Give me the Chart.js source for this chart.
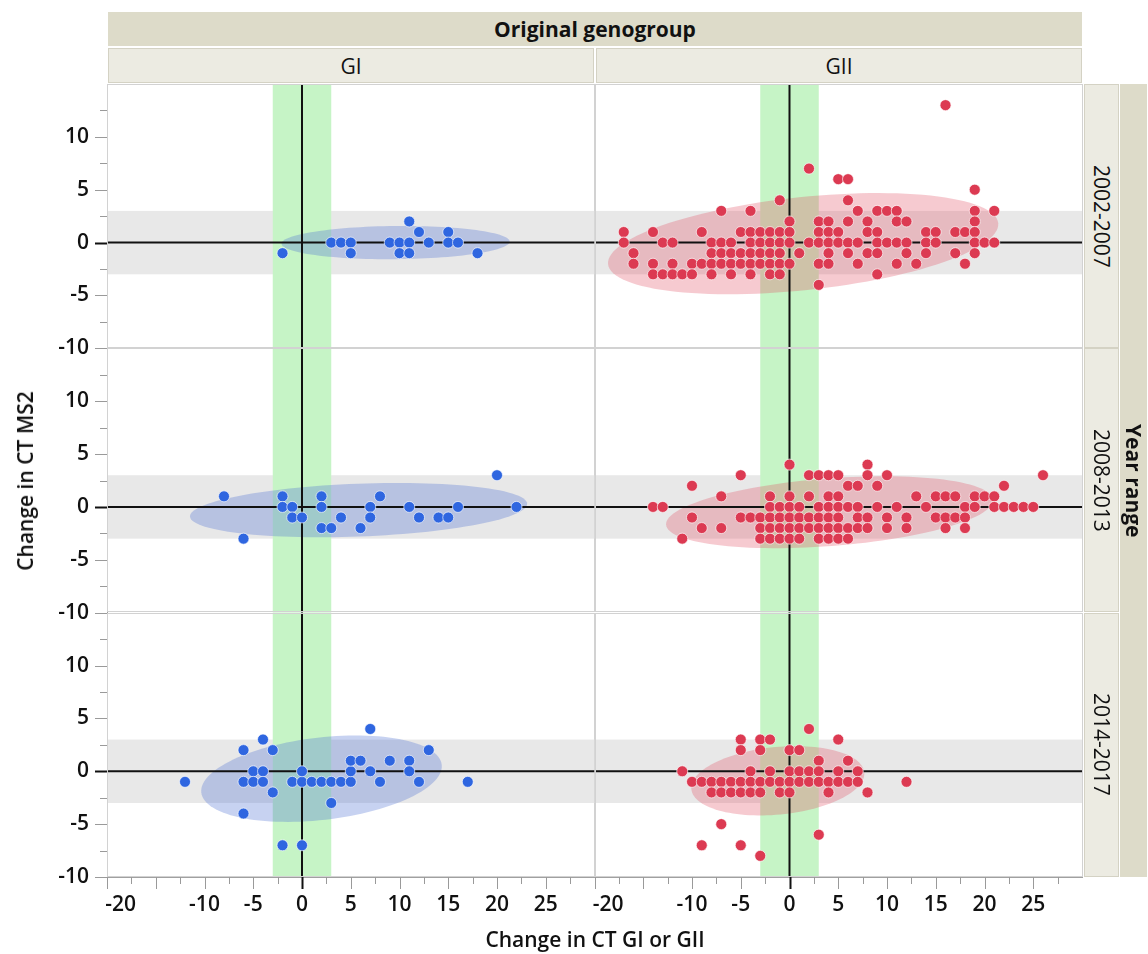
<!DOCTYPE html>
<html>
<head>
<meta charset="utf-8">
<script src="https://cdn.jsdelivr.net/npm/chart.js@4"></script>
<style>
  body { margin: 0; background: #fff; font-family: "Open Sans", sans-serif; color: #111; }
  #wrap { position: relative; width: 1148px; height: 954px; overflow: hidden; }
  #chart { position: absolute; left: 0; top: 0; }
  .strip { position: absolute; box-sizing: border-box; display: flex; align-items: center; justify-content: center; }
  .dark { background: #dddbc9; }
  .light { background: #ecebe2; border: 1px solid #d4d2c4; }
  .vert { writing-mode: vertical-rl; }
  .title { position: absolute; font-weight: 600; font-size: 21px; white-space: nowrap; }
</style>
</head>
<body>
<div id="wrap">
  <canvas id="chart" width="1148" height="954"></canvas>
  <div class="strip dark" style="left:108px;top:12px;width:974px;height:34px;font-weight:700;font-size:21px">Original genogroup</div>
  <div class="strip dark vert" style="left:1120px;top:84px;width:27px;height:793px;font-weight:700;font-size:21px">Year range</div>
  <div class="title" id="ytitle" style="left:25px;top:481px;transform:translate(-50%,-50%) rotate(-90deg)">Change in CT MS2</div>
  <div class="title" id="xtitle" style="left:595px;top:939px;transform:translate(-50%,-50%)">Change in CT GI or GII</div>
</div>
<script>
// facets
const groups = ['GI', 'GII'];
const years = ['2002-2007', '2008-2013', '2014-2017'];

// labelled ticks
const xLabelled = [-20, -10, -5, 0, 5, 10, 15, 20, 25];
const yLabelled = [-10, -5, 0, 5, 10];
const refBand = [-3, 3];

// points [change CT GI/GII, change CT MS2]
const gi2002 = [[-2,-1],[3,0],[4,0],[5,0],[5,-1],[9,0],[10,0],[10,-1],[11,0],[11,-1],[11,2],[12,1],[13,0],[15,1],[15,0],[16,0],[18,-1]];
const gi2008 = [[-8,1],[-6,-3],[-2,1],[-2,0],[-1,0],[-1,-1],[0,-1],[2,1],[2,0],[2,-2],[3,-2],[4,-1],[6,-2],[7,0],[7,-1],[8,1],[11,0],[12,-1],[14,-1],[15,-1],[16,0],[20,3],[22,0]];
const gi2014 = [[-12,-1],[-6,2],[-6,-1],[-6,-4],[-4,3],[-5,0],[-4,0],[-5,-1],[-4,-1],[-3,2],[-3,-2],[-2,-7],[0,-7],
  [-1,-1],[0,-1],[1,-1],[2,-1],[3,-1],[4,-1],[5,-1],[0,0],[3,-3],[5,0],[5,1],[6,1],[7,4],[7,0],[8,-1],[9,1],[11,1],[11,0],[12,-1],[13,2],[17,-1]];

const gii2002 = [[-17,1],[-17,0],[-16,-1],[-16,-2],[-14,1],[-14,-2],[-14,-3],[-13,0],[-13,-3],[-12,0],[-12,-2],[-12,-3],
  [-11,-3],[-10,-2],[-10,-3],[-9,1],[-9,-2],[-8,0],[-8,-1],[-8,-2],[-8,-3],[-7,3],[-7,0],[-7,-1],[-7,-2],
  [-6,0],[-6,-1],[-6,-2],[-6,-3],[-5,1],[-5,-1],[-5,-2],[-4,3],[-4,1],[-4,0],[-4,-1],[-4,-2],[-4,-3],
  [-3,1],[-3,0],[-3,-1],[-3,-2],[-2,1],[-2,0],[-2,-1],[-2,-2],[-2,-3],[-1,4],[-1,1],[-1,0],[-1,-1],[-1,-2],[-1,-3],
  [0,2],[0,1],[0,0],[0,-2],[1,-1],[2,7],[2,0],[3,2],[3,1],[3,0],[3,-2],[3,-4],[4,2],[4,1],[4,0],[4,-1],[4,-2],
  [5,6],[5,1],[5,0],[6,6],[6,4],[6,2],[6,0],[6,-1],[7,3],[7,0],[7,-2],[8,2],[8,1],[8,-1],
  [9,3],[9,1],[9,0],[9,-1],[9,-3],[10,3],[10,0],[11,3],[11,2],[11,0],[11,-2],[12,2],[12,0],[12,-1],[13,-2],
  [14,1],[14,0],[14,-1],[15,1],[15,0],[16,13],[17,1],[17,-1],[18,1],[18,-2],
  [19,5],[19,3],[19,2],[19,1],[19,0],[19,-1],[20,0],[21,3],[21,0]];
const gii2008 = [[-14,0],[-13,0],[-11,-3],[-10,2],[-10,-1],[-9,-2],[-7,1],[-7,-2],[-5,3],[-5,-1],[-4,-1],
  [0,4],[2,3],[3,3],[4,3],[5,3],[8,4],[8,3],[10,3],[26,3],[6,2],[7,2],[9,2],[22,2],
  [-2,1],[0,1],[2,1],[4,1],[5,1],[13,1],[15,1],[16,1],[17,1],[19,1],[20,1],[21,1],
  [-2,0],[-1,0],[0,0],[1,0],[3,0],[4,0],[5,0],[6,0],[7,0],[9,0],[11,0],[14,0],[18,0],[19,0],[21,0],[22,0],[23,0],[24,0],[25,0],
  [-3,-1],[-2,-1],[-1,-1],[0,-1],[1,-1],[2,-1],[3,-1],[4,-1],[5,-1],[7,-1],[8,-1],[10,-1],[12,-1],[15,-1],[16,-1],[17,-1],[18,-1],
  [-3,-2],[-2,-2],[-1,-2],[0,-2],[1,-2],[2,-2],[3,-2],[4,-2],[5,-2],[6,-2],[7,-2],[8,-2],[10,-2],[12,-2],[16,-2],[18,-2],
  [-3,-3],[-2,-3],[-1,-3],[0,-3],[1,-3],[3,-3],[4,-3],[5,-3],[6,-3]];
const gii2014 = [[-11,0],[2,4],[-5,3],[-3,3],[-2,3],[5,3],[-5,2],[-3,2],[0,2],[1,2],[3,1],[6,1],
  [-4,0],[-2,0],[0,0],[1,0],[2,0],[3,0],[5,0],[7,0],
  [-10,-1],[-9,-1],[-8,-1],[-7,-1],[-6,-1],[-5,-1],[-4,-1],[-3,-1],[-2,-1],[-1,-1],[0,-1],[1,-1],[2,-1],[3,-1],[4,-1],[5,-1],[6,-1],[7,-1],
  [-8,-2],[-7,-2],[-6,-2],[-5,-2],[-4,-2],[-3,-2],[-1,-2],[0,-2],[4,-2],[8,-2],
  [-7,-5],[-9,-7],[-5,-7],[-3,-8],[3,-6],[12,-1]];

// density ellipses [cx, cy, semi-major, semi-minor, angle deg]
const ellipseGI = [[9.6, 0, 11.7, 1.57, 0.5], [5.8, -0.3, 17.3, 2.5, 2], [2, -0.7, 12.4, 3.9, 6]];
const ellipseGII = [[1.4, -0.1, 20.1, 4.4, 5.5], [4.1, -0.5, 16.8, 3.2, 4], [-1.2, -0.9, 8.9, 3.2, 5]];

const points = [[gi2002, gi2008, gi2014], [gii2002, gii2008, gii2014]];
const ellipses = [ellipseGI, ellipseGII];
const dotColors = ['#2f66e0', '#dc3a52'];
const ellipseColors = ['rgba(80,115,210,0.32)', 'rgba(225,80,100,0.3)'];

// strips
const wrap = document.getElementById('wrap');
groups.forEach(function (g, c) {
    const d = document.createElement('div');
    d.className = 'strip light';
    d.style.cssText = 'left:' + (108 + c * 488) + 'px;top:48px;width:486px;height:35px;font-size:21px';
    d.textContent = g;
    wrap.appendChild(d);
});
years.forEach(function (y, r) {
    const d = document.createElement('div');
    d.className = 'strip light vert';
    d.style.cssText = 'left:1084px;top:' + (84 + r * 264.3) + 'px;width:35px;height:264px;font-size:21px';
    d.textContent = y;
    wrap.appendChild(d);
});

const tickFont = {family: 'Open Sans', size: 21, weight: '600'};
const scales = {};
groups.forEach(function (g, c) {
    scales['x' + c] = {
        type: 'linear', position: 'bottom', stack: 'cols', stackWeight: 1,
        min: -20, max: 30,
        afterFit: function (s) { s.height = 40; },
        border: {display: true, color: '#a0a0a0'},
        grid: {drawOnChartArea: false, color: 'rgba(0,0,0,0)', tickLength: 12},
        ticks: {
            stepSize: 2.5, autoSkip: false, maxRotation: 0, padding: 3, color: '#111', font: tickFont,
            callback: function (v) {
                if (!xLabelled.includes(v)) return '';
                // first label is kept inside the panel
                return v === -20 ? '     ' + v : String(v);
            }
        }
    };
});
years.forEach(function (y, r) {
    scales['y' + r] = {
        type: 'linear', position: 'left', stack: 'rows', stackWeight: 1, weight: years.length - r,
        min: -10, max: 15,
        afterFit: function (s) { s.width = 60; },
        border: {display: true, color: '#a0a0a0'},
        grid: {drawOnChartArea: false, color: 'rgba(0,0,0,0)', tickLength: 12},
        ticks: {
            stepSize: 2.5, autoSkip: false, padding: 6, color: '#111', font: tickFont,
            callback: function (v) { return yLabelled.includes(v) ? String(v) : ''; }
        }
    };
});

const datasets = [];
groups.forEach(function (g, c) {
    years.forEach(function (y, r) {
        datasets.push({
            label: g + ' ' + y,
            data: points[c][r].map(function (p) { return {x: p[0], y: p[1]}; }),
            xAxisID: 'x' + c,
            yAxisID: 'y' + r,
            backgroundColor: dotColors[c],
            borderColor: 'rgba(255,255,255,0.65)',
            borderWidth: 1,
            pointRadius: 5.5
        });
    });
});

// bands, ellipses, reference lines and panel frames
const panelPlugin = {
    id: 'panels',
    beforeDatasetsDraw: function (chart) {
        const ctx = chart.ctx;
        groups.forEach(function (g, c) {
            years.forEach(function (y, r) {
                const xs = chart.scales['x' + c], ys = chart.scales['y' + r];
                const L = xs.left, R = xs.right, T = ys.top, B = ys.bottom;
                ctx.save();
                ctx.beginPath();
                ctx.rect(L, T, R - L, B - T);
                ctx.clip();
                const b1 = ys.getPixelForValue(refBand[1]), b2 = ys.getPixelForValue(refBand[0]);
                ctx.fillStyle = '#e8e8e8';
                ctx.fillRect(L, b1, R - L, b2 - b1);
                const g1 = xs.getPixelForValue(refBand[0]), g2 = xs.getPixelForValue(refBand[1]);
                ctx.fillStyle = '#c6f4c6';
                ctx.fillRect(g1, T, g2 - g1, B - T);

                const e = ellipses[c][r];
                const th = e[4] * Math.PI / 180;
                ctx.beginPath();
                for (let i = 0; i <= 120; i++) {
                    const t = i / 120 * 2 * Math.PI;
                    const dx = e[2] * Math.cos(t), dy = e[3] * Math.sin(t);
                    const px = xs.getPixelForValue(e[0] + dx * Math.cos(th) - dy * Math.sin(th));
                    const py = ys.getPixelForValue(e[1] + dx * Math.sin(th) + dy * Math.cos(th));
                    if (i === 0) ctx.moveTo(px, py); else ctx.lineTo(px, py);
                }
                ctx.closePath();
                ctx.fillStyle = ellipseColors[c];
                ctx.fill();

                ctx.strokeStyle = '#111';
                ctx.lineWidth = 2;
                const zx = xs.getPixelForValue(0), zy = ys.getPixelForValue(0);
                ctx.beginPath();
                ctx.moveTo(L, zy); ctx.lineTo(R, zy);
                ctx.moveTo(zx, T); ctx.lineTo(zx, B);
                ctx.stroke();
                ctx.restore();

                ctx.save();
                ctx.strokeStyle = '#d2d2d2';
                ctx.lineWidth = 1;
                ctx.strokeRect(Math.round(L) + 0.5, Math.round(T) + 0.5, Math.round(R - L) - 1, Math.round(B - T) - 1);
                ctx.restore();
            });
        });
    },
    afterDraw: function (chart) {
        const ctx = chart.ctx;
        ctx.save();
        groups.forEach(function (g, c) {
            const s = chart.scales['x' + c];
            for (let v = s.min; v < s.max; v += 2.5) {
                const px = Math.round(s.getPixelForValue(v)) + 0.5;
                const len = v % 5 === 0 ? 12 : 7;
                ctx.strokeStyle = v === 0 ? '#111' : '#9a9a9a';
                ctx.lineWidth = v === 0 ? 2 : 1;
                ctx.beginPath();
                ctx.moveTo(px, s.top);
                ctx.lineTo(px, s.top + len);
                ctx.stroke();
            }
        });
        years.forEach(function (y, r) {
            const s = chart.scales['y' + r];
            for (let v = s.min; v < s.max; v += 2.5) {
                const py = Math.round(s.getPixelForValue(v)) + 0.5;
                const len = v % 5 === 0 ? 12 : 7;
                ctx.strokeStyle = v === 0 ? '#111' : '#9a9a9a';
                ctx.lineWidth = v === 0 ? 2 : 1;
                ctx.beginPath();
                ctx.moveTo(s.right, py);
                ctx.lineTo(s.right - len, py);
                ctx.stroke();
            }
        });
        ctx.restore();
    }
};

new Chart(document.getElementById('chart').getContext('2d'), {
    type: 'scatter',
    data: {datasets: datasets},
    options: {
        responsive: false,
        animation: false,
        layout: {padding: {left: 47, right: 66, top: 84, bottom: 37}},
        scales: scales,
        plugins: {legend: {display: false}, tooltip: {enabled: false}}
    },
    plugins: [panelPlugin]
});
</script>
</body>
</html>
